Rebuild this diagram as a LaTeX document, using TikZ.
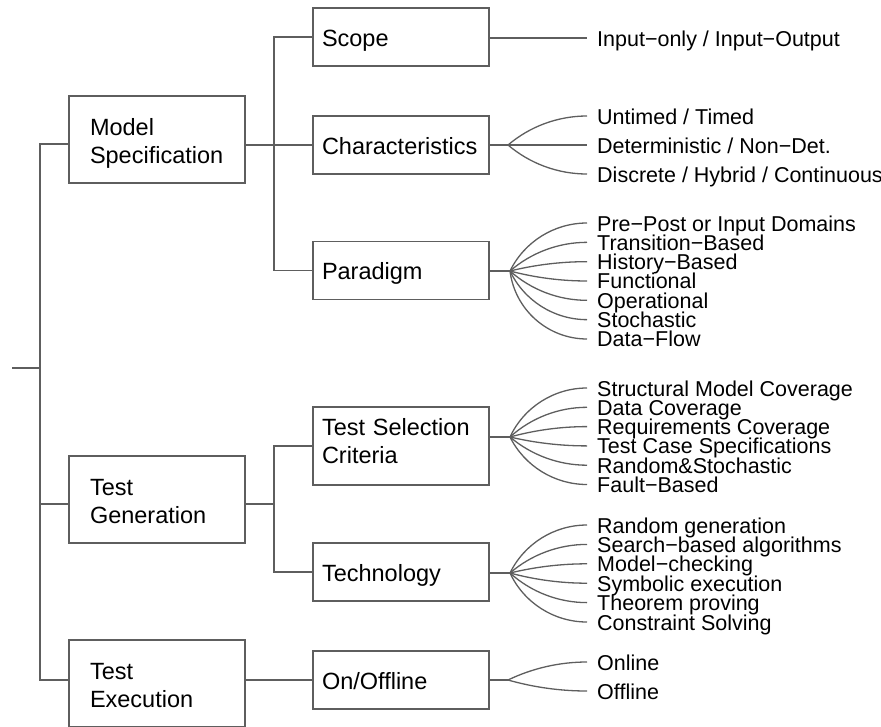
\documentclass[tikz,border=0pt]{standalone}
\usepackage{fontspec}
\setmainfont{Liberation Sans}
\usetikzlibrary{calc}
\definecolor{linec}{HTML}{5E5E5E}
\newcommand\boxfont{\fontsize{23.5pt}{28pt}\selectfont}
\newcommand\leaffont{\fontsize{21.5pt}{21.5pt}\selectfont}
\newcommand\myfan[2]{\draw[conn] let \p1=($(#2.west)-(#1)$), \n1={atan2(\y1,\x1)}, \n2={veclen(\x1,\y1)/(3*cos(\n1/2)*cos(\n1/2))}, \n3={2*\n1} in (#1) .. controls ($(#1)+(\n3:\n2)$) and ($(#2.west)+(-\n2,0pt)$) .. (#2.west);}
\begin{document}
\begin{tikzpicture}[x=1pt,y=-1pt,
 conn/.style={draw=linec,line width=1.3pt},
 boxa/.style={draw=linec,line width=1.3pt,minimum width=176pt,minimum height=87pt,text width=134pt,inner xsep=21pt,inner ysep=0pt,align=left,font=\boxfont,text height=17pt,text depth=26pt},
 boxb/.style={draw=linec,line width=1.3pt,minimum width=176pt,minimum height=58pt,text width=158pt,inner xsep=9pt,inner ysep=0pt,align=left,font=\boxfont,text height=23.7pt,text depth=4.9pt},
 leaf/.style={anchor=west,inner xsep=10pt,inner ysep=0pt,text height=16pt,text depth=0pt,font=\leaffont}]
\useasboundingbox (0,0) rectangle (881,726);
% level 1
\node[boxa] (ms) at (157,139.5) {Model\\Specification};
\node[boxa] (tg) at (157,499.5) {Test\\Generation};
\node[boxa] (te) at (157,683.5) {Test\\Execution};
% level 2
\node[boxb] (scope) at (401,37) {Scope};
\node[boxb] (char) at (401,145) {Characteristics};
\node[boxb] (par) at (401,270.5) {Paradigm};
\node[boxb,minimum height=78pt,text height=17pt,text depth=39pt] (tsc) at (401,446) {Test Selection\\Criteria};
\node[boxb] (tech) at (401,572) {Technology};
\node[boxb] (onoff) at (401,680) {On/Offline};
% trunk
\coordinate (root) at (12,368);
\coordinate (t1) at (40,368);
\draw[conn] (root) -- (t1);
\draw[conn] ([yshift=-4.5pt]ms.west) -| (t1) |- ([yshift=3.5pt]te.west);
\draw[conn] (t1) |- ([yshift=-4.5pt]tg.west);
% level 2 connectors
\coordinate (k1) at (274,145);
\draw[conn] (scope.west) -| (k1) |- (par.west);
\draw[conn] (ms.east |- k1) -- (char.west);
\coordinate (k2) at (274,504);
\draw[conn] (tsc.west) -| (k2) |- (tech.west);
\draw[conn] (tg.east |- k2) -- (k2);
\draw[conn] (te.east |- onoff.west) -- (onoff.west);
% fan origins
\coordinate (cO) at (508,145);
\coordinate (pO) at (510,271);
\coordinate (sO) at (510,437);
\coordinate (hO) at (510,573);
\coordinate (oO) at (508,680);
\draw[conn] (char.east) -- (cO);
\draw[conn] (par.east |- pO) -- (pO);
\draw[conn] (tsc.east |- sO) -- (sO);
\draw[conn] (tech.east |- hO) -- (hO);
\draw[conn] (onoff.east) -- (oO);
% scope leaf
\node[leaf] (s0) at (587,38) {Input−only / Input−Output};
\draw[conn] (scope.east |- s0.west) -- (s0.west);
% characteristics
\node[leaf] (c0) at (587,116) {Untimed / Timed};
\node[leaf] (c1) at (587,145) {Deterministic / Non−Det.};
\node[leaf] (c2) at (587,174) {Discrete / Hybrid / Continuous};
\myfan{cO}{c0}\myfan{cO}{c1}\myfan{cO}{c2}
% paradigm
\foreach \t [count=\i from 0] in {Pre−Post or Input Domains,Transition−Based,History−Based,Functional,Operational,Stochastic,Data−Flow}{
  \node[leaf] (p\i) at (587,{223+19.33*\i}) {\t};
  \myfan{pO}{p\i}
}
% test selection
\foreach \t [count=\i from 0] in {Structural Model Coverage,Data Coverage,Requirements Coverage,Test Case Specifications,Random\&Stochastic,Fault−Based}{
  \node[leaf] (r\i) at (587,{388+19.3*\i}) {\t};
  \myfan{sO}{r\i}
}
% technology
\foreach \t [count=\i from 0] in {Random generation,Search−based algorithms,Model−checking,Symbolic execution,Theorem proving,Constraint Solving}{
  \node[leaf] (h\i) at (587,{525+19.4*\i}) {\t};
  \myfan{hO}{h\i}
}
% on/offline
\node[leaf] (o0) at (587,662) {Online};
\node[leaf] (o1) at (587,691) {Offline};
\myfan{oO}{o0}\myfan{oO}{o1}
\end{tikzpicture}
\end{document}
